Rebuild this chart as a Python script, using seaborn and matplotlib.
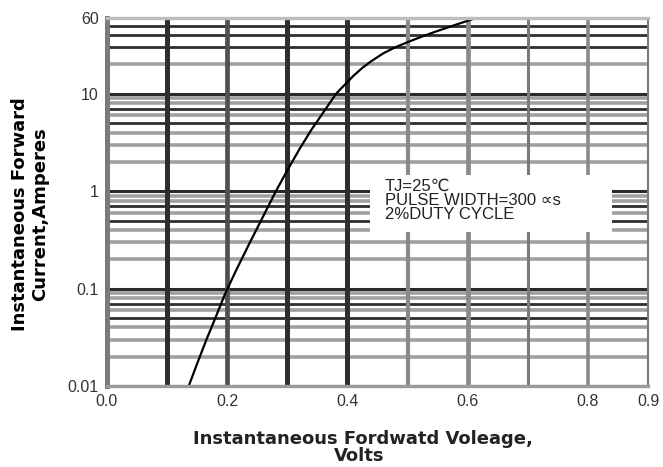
import numpy as np
import pandas as pd
import matplotlib
matplotlib.use("Agg")
import matplotlib.pyplot as plt
from matplotlib.patches import Rectangle
import seaborn as sns

# ---- data ----
voltage = [0.136, 0.150, 0.165, 0.180, 0.196, 0.215, 0.238, 0.260, 0.281, 0.300,
           0.320, 0.340, 0.360, 0.381, 0.395, 0.410, 0.425, 0.440, 0.460, 0.480,
           0.500, 0.525, 0.550, 0.580, 0.610, 0.616]
current = [0.010, 0.017, 0.0295, 0.0495, 0.087, 0.155, 0.30, 0.555, 1.0, 1.64,
           2.69, 4.27, 6.46, 10.0, 12.3, 15.3, 18.5, 21.7, 26.1, 30.1,
           33.9, 38.9, 44.2, 51.1, 58.9, 60.0]

x_ticks = [0.0, 0.2, 0.4, 0.6, 0.8, 0.9]
x_tick_labels = ["0.0", "0.2", "0.4", "0.6", "0.8", "0.9"]
y_ticks = [0.01, 0.1, 1, 10, 60]
y_tick_labels = ["0.01", "0.1", "1", "10", "60"]

x_label = "Instantaneous Fordwatd Voleage,"
x_label2 = "Volts"
y_label = "Instantaneous Forward\nCurrent,Amperes"
note = "TJ=25\u2103\nPULSE WIDTH=300 \u221ds\n2%DUTY CYCLE"

df = pd.DataFrame({"V": voltage, "I": current})

sns.set_theme(style="white")
plt.rcParams["font.family"] = ["Liberation Sans", "DejaVu Sans"]

W, H = 663, 467
fig = plt.figure(figsize=(W / 100, H / 100), dpi=100)
ax = fig.add_axes([107 / W, 1 - 386 / H, (648 - 107) / W, (386 - 18) / H])

ax.set_yscale("log")
ax.set_xlim(0.0, 0.9)
ax.set_ylim(0.01, 60)

# horizontal grid lines (log decades + minor)
for e in range(-2, 2):
    base = 10.0 ** e
    ax.axhline(base, color="#2a2a2a", lw=2.2, zorder=1.5)
    for m in range(2, 10):
        v = m * base
        if v > 60:
            continue
        if e == 1:
            dark = m in (3, 4, 5)
        else:
            dark = m in (5, 7)
        ax.axhline(v, color="#2e2e2e" if dark else "#a0a0a0",
                   lw=2.0 if dark else 2.6, zorder=1.5 if dark else 1)

# vertical grid lines
vstyles = {
    0.1: ("#2e2e2e", 3.6), 0.2: ("#505050", 3.4), 0.3: ("#2e2e2e", 3.6),
    0.4: ("#2e2e2e", 3.6), 0.5: ("#8a8a8a", 3.0), 0.6: ("#8a8a8a", 3.4),
    0.7: ("#7a7a7a", 2.2), 0.8: ("#8a8a8a", 2.6),
}
for xv, (c, lw) in vstyles.items():
    ax.axvline(xv, color=c, lw=lw, zorder=2)

# white box behind the note
ax.add_patch(Rectangle((0.486, 0.418), 0.447, 0.155, transform=ax.transAxes,
                       facecolor="white", edgecolor="none", zorder=3))
ax.text(0.514, 0.562, note, transform=ax.transAxes, ha="left", va="top",
        fontsize=12, color="#222222", linespacing=0.92, zorder=4,
        family=["Liberation Sans", "DejaVu Sans"])

sns.lineplot(data=df, x="V", y="I", ax=ax, color="black", lw=1.6,
             zorder=5, estimator=None, sort=False)

ax.set_xticks(x_ticks)
ax.set_xticklabels(x_tick_labels)
ax.set_yticks(y_ticks)
ax.set_yticklabels(y_tick_labels)
ax.set_yticks([], minor=True)
ax.tick_params(axis="both", length=0, labelsize=11.5, colors="#333333", pad=6)
ax.set_xlabel("")
ax.set_ylabel("")
ax.grid(False)

for side, (c, lw) in {"left": ("#7a7a7a", 3.6), "bottom": ("#9a9a9a", 2.4),
                      "top": ("#bdbdbd", 2.4), "right": ("#7a7a7a", 1.5)}.items():
    ax.spines[side].set_visible(True)
    ax.spines[side].set_color(c)
    ax.spines[side].set_linewidth(lw)
    ax.spines[side].set_zorder(6)

fig.text(363 / W, 1 - 439 / H, x_label, ha="center", va="center",
         fontsize=13, fontweight="bold", color="#222222", family="DejaVu Sans")
fig.text(334 / W, 1 - 456 / H, x_label2, ha="left", va="center",
         fontsize=13, fontweight="bold", color="#222222", family="DejaVu Sans")
fig.text(30 / W, 1 - 214 / H, y_label, ha="center", va="center", rotation=90,
         fontsize=13, fontweight="bold", color="black", family="DejaVu Sans",
         linespacing=1.1, multialignment="center")

fig.savefig("out.png", dpi=100, facecolor="white")
